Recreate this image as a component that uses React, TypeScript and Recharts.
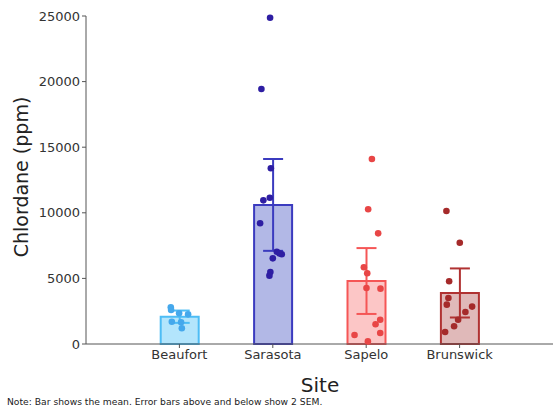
import React from 'react';
import { ComposedChart, Bar, Cell, ErrorBar, Scatter, XAxis, YAxis, Label } from 'recharts';

const sites = ['Beaufort', 'Sarasota', 'Sapelo', 'Brunswick'];
const means = [2080, 10600, 4800, 3890];
const twoSem = [470, 3500, 2510, 1870];
const strokeColors = ['#4dbdf5', '#3b3bbf', '#f55656', '#b03232'];
const fillColors = ['#b3e5fc', '#b2b8e6', '#fcc6c6', '#e0b9b9'];
const dotColors = ['#45a8ec', '#2e1ea3', '#e84646', '#a52a2a'];

// measured values and horizontal jitter (in category units) per site
const beaufortVals = [2800, 2590, 2340, 2260, 1700, 1650, 1200];
const beaufortJit = [-0.092, -0.089, -0.003, 0.093, -0.081, 0.018, 0.026];
const sarasotaVals = [24870, 19440, 13390, 10950, 11150, 9200, 7035, 6840, 6910, 6530, 5490, 5210];
const sarasotaJit = [-0.029, -0.122, -0.021, -0.101, -0.032, -0.136, 0.043, 0.096, 0.071, 0, -0.026, -0.036];
const sapeloVals = [14100, 10265, 8435, 5845, 5390, 4270, 4220, 1850, 1500, 840, 690, 200];
const sapeloJit = [0.061, 0.021, 0.128, -0.025, 0.011, 0.003, 0.153, 0.15, 0.1, 0.15, -0.125, 0.018];
const brunswickVals = [10140, 7720, 4780, 3510, 3000, 2850, 2440, 1850, 1350, 915];
const brunswickJit = [-0.141, 0.002, -0.112, -0.12, -0.137, 0.134, 0.062, -0.016, -0.059, -0.155];

const yTicks = [0, 5000, 10000, 15000, 20000, 25000];

const allVals = [beaufortVals, sarasotaVals, sapeloVals, brunswickVals];
const allJit = [beaufortJit, sarasotaJit, sapeloJit, brunswickJit];

const barData = sites.map((site, i) => {
  const row: Record<string, any> = { site, mean: means[i] };
  row['err' + i] = twoSem[i];
  return row;
});

const pointSets = allVals.map((vals, i) => vals.map((y, k) => ({ x: i + 1 + allJit[i][k], y })));

const font = 'DejaVu Sans, sans-serif';

export default function App() {
  return (
    <div style={{ position: 'absolute', left: 0, top: 0, width: 560, height: 415, background: '#fff', fontFamily: font }}>
      <ComposedChart width={560} height={415} data={barData} margin={{ top: 16, right: 7, bottom: 41, left: 0 }}>
        <XAxis xAxisId="cat" dataKey="site" type="category" hide height={0} padding={{ left: 46.7, right: 46.7 }} />
        <XAxis
          xAxisId="num"
          dataKey="x"
          type="number"
          domain={[0, 5]}
          ticks={[1, 2, 3, 4]}
          tickFormatter={(v: number) => sites[v - 1]}
          tickSize={4}
          height={30}
          stroke="#555"
          tick={{ fill: '#333', fontSize: 13, fontFamily: font }}
          tickLine={{ stroke: '#555' }}
        >
          <Label
            content={() => (
              <text x={320} y={392} textAnchor="middle" fontSize={20} fill="#222" fontFamily={font}>
                Site
              </text>
            )}
          />
        </XAxis>
        <YAxis
          width={86}
          domain={[0, 25000]}
          ticks={yTicks}
          tickSize={4}
          stroke="#555"
          tick={{ fill: '#333', fontSize: 13, fontFamily: font }}
        >
          <Label
            content={() => (
              <text x={28} y={177} textAnchor="middle" fontSize={19} fill="#222" fontFamily={font} transform="rotate(-90 28 177)">
                Chlordane (ppm)
              </text>
            )}
          />
        </YAxis>
        <Bar xAxisId="cat" dataKey="mean" barSize={38} strokeWidth={2} isAnimationActive={false}>
          {sites.map((s, i) => (
            <Cell key={s} fill={fillColors[i]} stroke={strokeColors[i]} />
          ))}
          {sites.map((s, i) => (
            <ErrorBar key={s} dataKey={'err' + i} width={10} strokeWidth={2} stroke={strokeColors[i]} direction="y" />
          ))}
        </Bar>
        {pointSets.map((pts, i) => (
          <Scatter
            key={sites[i]}
            xAxisId="num"
            data={pts}
            dataKey="y"
            isAnimationActive={false}
            shape={(p: any) => <circle cx={p.cx} cy={p.cy} r={3.3} fill={dotColors[i]} />}
          />
        ))}
      </ComposedChart>
      <div style={{ position: 'absolute', left: 7, top: 396, fontSize: 9.2, color: '#222', whiteSpace: 'nowrap' }}>
        Note: Bar shows the mean. Error bars above and below show 2 SEM.
      </div>
    </div>
  );
}
